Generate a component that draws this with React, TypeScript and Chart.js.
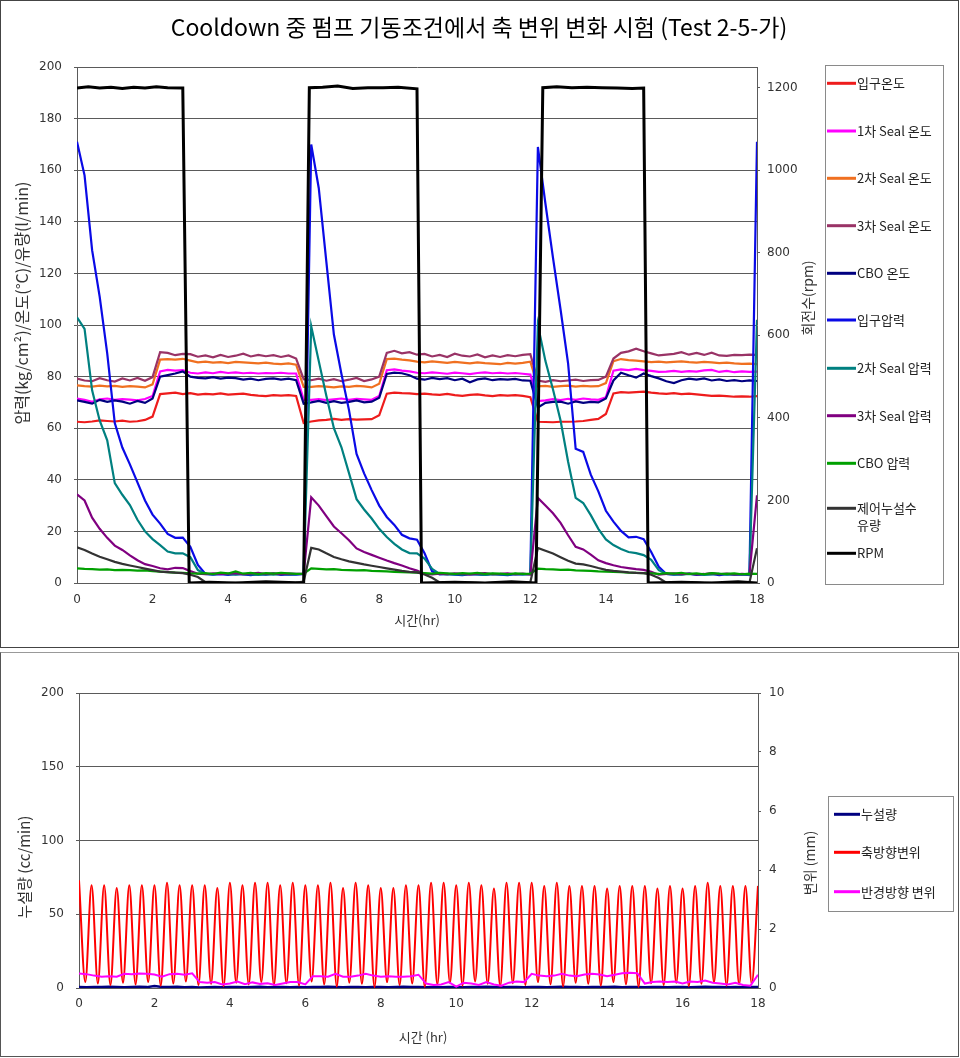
import React, { useEffect, useRef } from 'react';
import { Chart, registerables } from 'chart.js';

Chart.register(...registerables);

const KR = "'Noto Sans CJK KR', sans-serif";
const NUM = "'DejaVu Sans', sans-serif";
const GRID = '#5a5a5a';

// ---------- Top chart data (time in hr) ----------
const hours = [
  0, 0.2, 0.4, 0.6, 0.8, 1, 1.2, 1.4, 1.6, 1.8,
  2, 2.2, 2.4, 2.6, 2.8, 3, 3.2, 3.4, 3.6, 3.8,
  4, 4.2, 4.4, 4.6, 4.8, 5, 5.2, 5.4, 5.6, 5.8,
  6, 6.2, 6.4, 6.6, 6.8, 7, 7.2, 7.4, 7.6, 7.8,
  8, 8.2, 8.4, 8.6, 8.8, 9, 9.2, 9.4, 9.6, 9.8,
  10, 10.2, 10.4, 10.6, 10.8, 11, 11.2, 11.4, 11.6, 11.8,
  12, 12.2, 12.4, 12.6, 12.8, 13, 13.2, 13.4, 13.6, 13.8,
  14, 14.2, 14.4, 14.6, 14.8, 15, 15.2, 15.4, 15.6, 15.8,
  16, 16.2, 16.4, 16.6, 16.8, 17, 17.2, 17.4, 17.6, 17.8,
  18,
];

const inletTemp = [
  62.5, 62.3, 62.6, 63.0, 62.8, 62.6, 62.9, 62.5, 62.7, 63.2,
  64.5, 73.2, 73.5, 73.8, 73.2, 73.6, 73.0, 73.3, 73.1, 73.5,
  73.0, 73.2, 73.4, 72.9, 72.6, 72.4, 72.8, 72.6, 72.8, 72.5,
  62.0, 62.6, 63.0, 63.2, 63.6, 63.2, 63.5, 63.3, 63.4, 63.5,
  65.0, 73.4, 73.8, 73.6, 73.5, 73.2, 73.4, 73.1, 72.9, 73.3,
  72.8, 72.5, 72.9, 73.1, 72.7, 72.4, 72.8, 72.6, 72.8, 72.5,
  72.0, 62.5, 62.4, 62.3, 62.5, 62.5, 62.6, 62.8, 63.2, 63.6,
  65.5, 73.5, 74.0, 73.8, 74.0, 74.2, 73.8, 73.5, 73.3, 73.6,
  73.2, 73.4, 73.1, 72.8, 72.5, 72.6, 72.4, 72.2, 72.3, 72.2,
  72.4,
];

const seal1Temp = [
  71.5, 71.0, 70.2, 71.2, 71.5, 71.0, 71.3, 71.1, 70.8, 71.3,
  72.5, 82.0, 82.6, 82.3, 82.5, 81.5, 81.2, 81.6, 81.3, 81.8,
  81.4, 81.6, 81.3, 81.5, 81.2, 81.4, 81.3, 81.5, 81.2, 81.2,
  71.0, 71.0, 71.3, 70.9, 71.2, 71.5, 71.0, 71.4, 71.2, 71.0,
  72.5, 82.5, 82.8, 82.3, 82.0, 81.5, 81.3, 81.6, 81.4, 81.1,
  81.5, 81.3, 81.0, 81.4, 81.6, 81.3, 81.5, 81.2, 81.4, 81.1,
  80.8, 70.5, 70.8, 71.3, 70.9, 71.4, 71.0, 71.5, 71.2, 71.0,
  72.0, 82.3, 82.8, 82.5, 83.0, 82.5, 82.2, 81.8, 81.9, 82.2,
  81.8, 82.1, 81.9, 82.4, 82.6, 81.8, 82.2, 81.7, 82.0, 81.8,
  81.9,
];

const seal2Temp = [
  76.6, 76.3, 76.1, 76.5, 76.2, 76.4, 76.0, 76.3, 76.1, 75.8,
  77.0, 86.6, 86.8, 86.6, 86.9, 86.2, 85.5, 85.8, 85.4, 85.6,
  85.2, 85.7, 85.5, 85.3, 85.1, 85.4, 85.0, 84.8, 85.1, 84.6,
  76.0, 76.0, 76.3, 76.1, 75.8, 76.2, 76.0, 76.4, 76.2, 75.8,
  77.2, 86.8, 87.0, 86.6, 86.3, 85.8, 85.5, 85.9, 85.6, 85.3,
  85.7, 85.4, 85.1, 85.5, 85.2, 85.0, 84.8, 85.3, 85.0, 85.3,
  85.8, 76.2, 76.4, 76.0, 76.3, 76.5, 76.1, 76.4, 76.2, 76.3,
  77.5, 86.0, 86.8, 86.4, 86.2, 85.9, 85.6, 85.8, 85.5, 85.7,
  85.9, 85.6, 85.4, 85.7, 85.5, 85.2, 85.4, 85.1, 84.9, 85.0,
  84.8,
];

const seal3Temp = [
  79.2, 78.5, 78.2, 79.4, 78.6, 78.1, 79.3, 78.5, 79.5, 78.4,
  79.8, 89.5, 89.2, 88.3, 88.8, 88.7, 87.7, 88.2, 87.5, 88.4,
  87.6, 88.1, 88.9, 87.8, 88.4, 87.9, 88.3, 87.6, 88.2, 87.0,
  79.0, 78.6, 79.2, 78.4, 79.0, 78.2, 78.8, 79.5, 78.3, 78.9,
  80.0, 89.2, 90.0, 89.0, 89.5, 88.5, 88.8, 87.8, 88.4, 87.6,
  88.9, 88.1, 87.8, 88.6, 87.5, 88.2, 87.6, 88.3, 87.9, 88.4,
  88.7, 78.5, 78.0, 78.6, 78.2, 78.5, 78.8, 78.3, 78.6, 78.7,
  80.0, 87.0, 89.2, 89.8, 90.8, 89.8, 89.0, 88.2, 88.5, 88.8,
  89.5, 88.5, 89.2, 88.4, 89.3, 88.2, 88.0, 88.4, 88.3, 88.5,
  88.4,
];

const cboTemp = [
  70.8, 70.2, 69.5, 71.0, 70.2, 70.8, 70.3, 69.5, 70.6, 69.8,
  71.5, 80.0, 80.6, 81.2, 82.0, 80.0, 79.5, 79.3, 79.8, 79.2,
  79.6, 79.4, 78.8, 79.2, 78.6, 79.1, 79.3, 78.8, 79.2, 78.6,
  69.5, 70.0, 70.6, 69.8, 70.5, 69.8, 70.2, 70.8, 70.0, 70.3,
  71.8, 81.0, 81.5, 81.3, 80.5, 79.2, 78.8, 79.5, 79.0, 79.4,
  78.6, 79.2, 77.8, 78.9, 79.3, 78.6, 79.0, 78.8, 79.1, 78.5,
  78.4, 68.0, 69.8, 70.2, 70.3, 69.5, 70.4, 69.8, 70.2, 70.0,
  71.5, 78.5, 81.5, 80.5, 79.6, 81.2, 80.2, 79.3, 78.2, 77.5,
  78.6, 79.2, 78.8, 79.3, 78.5, 78.9, 78.3, 78.6, 78.2, 78.5,
  78.3,
];

const inletPress = [
  171, 158, 129, 111, 89, 62, 52.5, 46, 39, 32,
  26.5, 23, 19, 17.5, 17.6, 14, 7, 3.5, 3.2, 3.4,
  3.1, 3.5, 3.3, 3.0, 3.4, 3.2, 3.6, 3.1, 3.3, 3.2,
  3.5, 170, 153, 124.6, 96.3, 81, 67, 50, 42.5, 36,
  30, 25.6, 22.5, 18.7, 17.3, 16.8, 11.5, 4.5, 3.3, 3.5,
  3.2, 3.0, 3.4, 3.3, 3.1, 3.5, 3.2, 3.0, 3.4, 3.3,
  3.5, 169, 147, 126, 106, 85, 52, 50.8, 42, 35.5,
  28, 23.8, 20.2, 17.7, 17.9, 17, 12, 6.3, 3.5, 3.2,
  3.4, 3.6, 3.1, 3.3, 3.5, 3.0, 3.4, 3.2, 3.3, 3.1,
  171,
];

const seal2Press = [
  103, 98.5, 74.7, 63, 55.3, 38.7, 34.2, 30.2, 24.5, 20,
  17, 14.7, 12.2, 11.5, 11.5, 10, 5, 3.5, 3.3, 3.6,
  3.4, 3.2, 3.5, 3.3, 3.1, 3.4, 3.2, 3.5, 3.3, 3.4,
  3.5, 99.5, 86, 72.6, 60, 52.6, 42.6, 32.5, 28.5, 25,
  21, 17.8, 15.2, 13, 11.6, 11.5, 9.5, 5.5, 3.5, 3.3,
  3.4, 3.2, 3.5, 3.3, 3.1, 3.4, 3.3, 3.2, 3.5, 3.3,
  3.4, 100, 86, 75, 63, 47, 33, 31, 26.3, 21,
  16.9, 14.7, 13.2, 12, 11.6, 10.8, 9, 5, 3.5, 3.3,
  3.2, 3.5, 3.4, 3.1, 3.3, 3.5, 3.2, 3.4, 3.3, 3.2,
  102,
];

const seal3Press = [
  34.4, 32, 25.3, 21, 17.5, 14.5, 12.8, 10.7, 8.8, 7.3,
  6.6, 5.7, 5.3, 5.9, 5.8, 4.6, 3.6, 3.4, 3.7, 3.5,
  3.6, 3.8, 3.4, 3.6, 3.9, 3.5, 3.7, 3.4, 3.6, 3.5,
  3.5, 33.2, 30, 25.9, 21.9, 19.3, 16.6, 13.4, 12, 10.9,
  9.8, 8.7, 7.7, 6.8, 5.7, 4.8, 3.5, 3.3, 3.6, 3.4,
  3.7, 3.5, 3.3, 3.6, 3.8, 3.4, 3.5, 3.7, 3.4, 3.6,
  3.3, 33, 30, 27, 23.3, 18.5, 14, 13, 11, 8.8,
  7.7, 6.9, 6.2, 5.8, 5.4, 5.1, 4.3, 3.2, 3.5, 3.7,
  3.4, 3.6, 3.3, 3.5, 3.8, 3.4, 3.6, 3.3, 3.5, 3.4,
  34,
];

const cboPress = [
  5.7, 5.5, 5.4, 5.2, 5.3, 5.0, 5.1, 5.0, 4.8, 4.9,
  4.6, 4.4, 4.2, 4.0, 3.9, 3.7, 3.6, 3.8, 3.5, 4.0,
  3.7, 4.5, 3.6, 3.9, 3.5, 3.8, 3.6, 3.9, 3.7, 3.5,
  3.6, 5.7, 5.5, 5.3, 5.4, 5.1, 5.0, 4.9, 5.0, 4.7,
  4.6, 4.5, 4.3, 4.2, 4.1, 4.0, 3.8, 3.6, 3.9, 3.7,
  3.5, 3.8, 3.6, 3.9, 3.5, 3.7, 3.6, 3.4, 3.7, 3.5,
  3.6, 5.6, 5.4, 5.3, 5.1, 5.2, 4.9, 4.8, 4.7, 4.5,
  4.4, 4.3, 4.2, 4.0, 3.9, 3.8, 3.7, 3.5, 3.8, 3.6,
  3.9, 3.5, 3.7, 3.4, 3.8, 3.6, 3.5, 3.7, 3.4, 3.6,
  3.5,
];

const leakFlow = [
  13.8, 12.8, 11.4, 10.2, 9.2, 8.2, 7.4, 6.8, 6.2, 5.6,
  5.0, 4.4, 4.2, 4.0, 3.8, 3.2, 2.3, 0.3, 0, 0,
  0, 0.1, 0, 0.2, 0.1, 0, 0.1, 0.2, 0.1, 0.2,
  0.5, 13.6, 13, 11.5, 10.1, 9.2, 8.4, 7.8, 7.2, 6.7,
  6.2, 5.7, 5.2, 4.7, 4.3, 4.1, 3.3, 2, 0.2, 0,
  0.1, 0, 0.2, 0.1, 0, 0.1, 0.2, 0, 0.1, 0.2,
  0.3, 13.6, 12.5, 11.4, 10, 8.6, 7.5, 7.2, 6.6, 5.8,
  5.1, 4.7, 4.4, 4.1, 3.9, 3.8, 3.2, 1.9, 0.1, 0,
  0, 0.1, 0.2, 0, 0.1, 0, 0.2, 0.1, 0, 0.1,
  13.5,
];

const rpmHours = [
  0, 0.3, 0.6, 0.9, 1.2, 1.5, 1.8, 2.1, 2.4, 2.8,
  2.97, 3.5, 4.2, 5.0, 5.6, 6.0,
  6.15, 6.5, 6.9, 7.3, 7.7, 8.1, 8.5, 9.0,
  9.12, 10, 10.8, 11.5, 12.15,
  12.33, 12.7, 13.1, 13.5, 13.9, 14.3, 14.7, 15.0,
  15.12, 16, 16.8, 17.5, 18,
];
const rpmValues = [
  1199, 1202, 1199, 1201, 1198, 1201, 1199, 1202, 1200, 1199,
  0, 2, 0, 3, 1, 0,
  1200, 1201, 1204, 1198, 1200, 1200, 1201, 1197,
  0, 2, 0, 3, 0,
  1200, 1202, 1200, 1201, 1200, 1199, 1198, 1199,
  0, 2, 0, 3, 0,
];

const topLeftTicks = { min: 0, max: 200, step: 20 };
const topRightTicks = { min: 0, max: 1250, step: 200, lastLabel: 1200 };
const hourTicks = { min: 0, max: 18, step: 2 };

// ---------- Bottom chart data ----------
const leakRate = [
  0.6, 0.5, 0.7, 0.6, 0.8, 0.6, 0.5, 0.7, 0.9, 0.6,
  1.4, 0.7, 0.6, 0.8, 0.5, 0.6, 0.4, 0.5, 0.6, 0.5,
  0.7, 0.6, 0.5, 0.6, 0.8, 0.5, 0.6, 0.7, 0.5, 0.6,
  0.5, 0.7, 0.6, 0.8, 0.6, 0.5, 0.7, 0.6, 0.5, 0.6,
  0.7, 0.5, 0.6, 0.8, 0.6, 0.7, 0.5, 0.6, 0.5, 0.7,
  0.6, 0.5, 0.7, 0.6, 0.8, 0.6, 0.5, 0.6, 0.7, 0.5,
  0.6, 0.7, 0.5, 0.6, 0.8, 0.6, 0.7, 0.5, 0.6, 0.7,
  0.6, 0.8, 0.5, 0.6, 0.7, 0.5, 0.6, 0.7, 0.5, 0.6,
  0.7, 0.5, 0.6, 0.8, 0.6, 0.7, 0.5, 0.6, 0.5, 0.6,
  0.6,
];

const axialMinutes = [
  0, 10, 20, 30, 40, 50, 60, 70, 80, 90,
  100, 110, 120, 130, 140, 150, 160, 170, 180, 190,
  200, 210, 220, 230, 240, 250, 260, 270, 280, 290,
  300, 310, 320, 330, 340, 350, 360, 370, 380, 390,
  400, 410, 420, 430, 440, 450, 460, 470, 480, 490,
  500, 510, 520, 530, 540, 550, 560, 570, 580, 590,
  600, 610, 620, 630, 640, 650, 660, 670, 680, 690,
  700, 710, 720, 730, 740, 750, 760, 770, 780, 790,
  800, 810, 820, 830, 840, 850, 860, 870, 880, 890,
  900, 910, 920, 930, 940, 950, 960, 970, 980, 990,
  1000, 1010, 1020, 1030, 1040, 1050, 1060, 1070, 1080,
];
const axialDisp = [
  3.65, 0.20, 3.48, 0.15, 3.48, 0.10, 3.39, 0.18, 3.48, 0.12,
  3.48, 0.20, 3.48, 0.08, 3.57, 0.15, 3.48, 0.22, 3.48, 0.10,
  3.48, 0.14, 3.39, 0.06, 3.57, 0.18, 3.48, 0.12, 3.57, 0.20,
  3.57, 0.10, 3.48, 0.16, 3.57, 0.08, 3.48, 0.22, 3.48, 0.12,
  3.57, 0.05, 3.39, 0.18, 3.57, 0.14, 3.48, 0.03, 3.39, 0.20,
  3.39, 0.10, 3.48, 0.15, 3.48, 0.04, 3.57, 0.12, 3.57, 0.18,
  3.48, 0.08, 3.57, 0.22, 3.48, 0.14, 3.37, 0.06, 3.57, 0.16,
  3.57, 0.10, 3.57, 0.20, 3.46, 0.12, 3.57, 0.05, 3.46, 0.18,
  3.46, 0.14, 3.46, 0.08, 3.37, 0.20, 3.46, 0.12, 3.46, 0.04,
  3.46, 0.16, 3.37, 0.10, 3.46, 0.18, 3.37, 0.06, 3.46, 0.14,
  3.57, 0.20, 3.46, 0.08, 3.46, 0.12, 3.46, 0.15, 3.46,
];

const radialDisp = [
  0.49, 0.47, 0.42, 0.38, 0.40, 0.38, 0.48, 0.47, 0.49, 0.48,
  0.46, 0.38, 0.47, 0.48, 0.45, 0.50, 0.20, 0.18, 0.20, 0.12,
  0.15, 0.22, 0.13, 0.19, 0.14, 0.16, 0.10, 0.15, 0.20, 0.20,
  0.12, 0.40, 0.40, 0.38, 0.48, 0.38, 0.38, 0.42, 0.48, 0.42,
  0.38, 0.40, 0.38, 0.38, 0.40, 0.45, 0.15, 0.10, 0.12, 0.20,
  0.05, 0.18, 0.15, 0.10, 0.20, 0.12, 0.08, 0.18, 0.22, 0.20,
  0.48, 0.42, 0.40, 0.42, 0.48, 0.42, 0.40, 0.46, 0.48, 0.46,
  0.40, 0.45, 0.50, 0.52, 0.50, 0.15, 0.20, 0.22, 0.20, 0.22,
  0.15, 0.22, 0.20, 0.25, 0.18, 0.15, 0.12, 0.18, 0.10, 0.08,
  0.45,
];

const bottomLeftTicks = { min: 0, max: 200, step: 50 };
const bottomRightTicks = { min: 0, max: 10, step: 2 };

// ---------- helpers ----------
type Decor = {
  mainTitle?: { text: string; x: number; y: number; size: number };
  legend: { x: number; y: number; w: number; h: number; lineX0: number; lineX1: number; textX: number; itemY: number[]; lineGap: number; fontSize: number };
  titles: { text: string; x: number; y: number; rot: number; size: number }[];
};

function makeDecor(cfg: Decor) {
  return {
    id: 'decor',
    afterDraw(chart: any) {
      const ctx: CanvasRenderingContext2D = chart.ctx;
      const lg = cfg.legend;
      ctx.save();
      if (cfg.mainTitle) {
        const mt = cfg.mainTitle;
        ctx.font = `${mt.size}px ${KR}`;
        ctx.fillStyle = '#000';
        ctx.textAlign = 'center';
        ctx.textBaseline = 'middle';
        ctx.fillText(mt.text, mt.x, mt.y);
      }
      ctx.strokeStyle = '#8a8a8a';
      ctx.lineWidth = 1;
      ctx.strokeRect(lg.x + 0.5, lg.y + 0.5, lg.w, lg.h);
      ctx.font = `${lg.fontSize}px ${KR}`;
      ctx.textBaseline = 'middle';
      ctx.textAlign = 'left';
      chart.data.datasets.forEach((ds: any, i: number) => {
        const y = lg.itemY[i];
        ctx.strokeStyle = ds.borderColor;
        ctx.lineWidth = 3;
        ctx.beginPath();
        ctx.moveTo(lg.lineX0, y);
        ctx.lineTo(lg.lineX1, y);
        ctx.stroke();
        ctx.fillStyle = '#222';
        const lines: string[] = ds.legendLines || [ds.label];
        lines.forEach((t, j) => ctx.fillText(t, lg.textX, y + j * lg.lineGap));
      });
      cfg.titles.forEach((t) => {
        ctx.save();
        ctx.translate(t.x, t.y);
        ctx.rotate(t.rot);
        ctx.font = `${t.size}px ${KR}`;
        ctx.fillStyle = '#333';
        ctx.textAlign = 'center';
        ctx.textBaseline = 'middle';
        ctx.fillText(t.text, 0, 0);
        ctx.restore();
      });
      ctx.restore();
    },
  };
}

const tickFont = { family: NUM, size: 12 };
const plainNumber = (v: any) => String(v);

function topConfig(): any {
  const series = [
    { label: '입구온도', color: '#ee1c1c', values: inletTemp },
    { label: '1차 Seal 온도', color: '#ff00ff', values: seal1Temp },
    { label: '2차 Seal 온도', color: '#f07020', values: seal2Temp },
    { label: '3차 Seal 온도', color: '#993366', values: seal3Temp },
    { label: 'CBO 온도', color: '#000080', values: cboTemp },
    { label: '입구압력', color: '#0a0ae6', values: inletPress },
    { label: '2차 Seal 압력', color: '#008080', values: seal2Press },
    { label: '3차 Seal 압력', color: '#800080', values: seal3Press },
    { label: 'CBO 압력', color: '#00a000', values: cboPress },
    { label: '제어누설수 유량', color: '#333333', values: leakFlow, lines: ['제어누설수', '유량'] },
  ];
  const n = series.length + 1;
  const datasets: any[] = series.map((s, i) => ({
    label: s.label,
    legendLines: s.lines,
    data: hours.map((h, j) => ({ x: h, y: s.values[j] })),
    borderColor: s.color,
    backgroundColor: s.color,
    borderWidth: 2.2,
    pointRadius: 0,
    tension: 0,
    yAxisID: 'y',
    order: n - i,
  }));
  datasets.push({
    label: 'RPM',
    data: rpmHours.map((h, j) => ({ x: h, y: rpmValues[j] })),
    borderColor: '#000000',
    backgroundColor: '#000000',
    borderWidth: 3,
    pointRadius: 0,
    tension: 0,
    yAxisID: 'y1',
    order: 1,
  });
  const decor = makeDecor({
    mainTitle: { text: 'Cooldown 중 펌프 기동조건에서 축 변위 변화 시험 (Test 2-5-가)', x: 478, y: 26, size: 23 },
    legend: {
      x: 824, y: 64, w: 118, h: 519, lineX0: 826, lineX1: 855, textX: 856,
      itemY: [82.3, 130, 177.3, 224.7, 272.3, 319, 367.3, 414.7, 462.3, 507.3, 552.3],
      lineGap: 17, fontSize: 13,
    },
    titles: [
      { text: '압력(kg/cm²)/온도(°C)/유량(l/min)', x: 21, y: 302, rot: -Math.PI / 2, size: 16 },
      { text: '회전수(rpm)', x: 807, y: 297, rot: -Math.PI / 2, size: 14 },
      { text: '시간(hr)', x: 416, y: 619, rot: 0, size: 13 },
    ],
  });
  return {
    type: 'line',
    data: { datasets },
    plugins: [decor],
    options: {
      animation: false,
      responsive: false,
      maintainAspectRatio: false,
      events: [],
      layout: { padding: { top: 66, left: 0, bottom: 0, right: 141 } },
      plugins: {
        legend: { display: false },
        tooltip: { enabled: false },
        title: { display: false },
      },
      scales: {
        x: {
          type: 'linear',
          min: hourTicks.min,
          max: hourTicks.max,
          ticks: { stepSize: hourTicks.step, font: tickFont, color: '#333', padding: 10, maxRotation: 0, callback: plainNumber },
          grid: { display: false, drawTicks: false },
          border: { color: GRID, width: 1 },
          afterFit: (s: any) => { s.height = 64; },
        },
        y: {
          type: 'linear',
          position: 'left',
          min: topLeftTicks.min,
          max: topLeftTicks.max,
          ticks: { stepSize: topLeftTicks.step, font: tickFont, color: '#333', padding: 12, callback: plainNumber },
          grid: { color: GRID, tickLength: 3, lineWidth: 1 },
          border: { color: GRID, width: 1 },
          afterFit: (s: any) => { s.width = 76; },
        },
        y1: {
          type: 'linear',
          position: 'right',
          min: topRightTicks.min,
          max: topRightTicks.max,
          ticks: { stepSize: topRightTicks.step, font: tickFont, color: '#333', padding: 7, callback: plainNumber },
          grid: { drawOnChartArea: false, color: GRID, tickLength: 3 },
          border: { color: GRID, width: 1 },
          afterBuildTicks: (s: any) => { s.ticks = s.ticks.filter((t: any) => t.value <= topRightTicks.lastLabel); },
          afterFit: (s: any) => { s.width = 60; },
        },
      },
    },
  };
}

function bottomConfig(): any {
  const decor = makeDecor({
    legend: {
      x: 827, y: 143, w: 125, h: 115, lineX0: 833, lineX1: 859, textX: 860,
      itemY: [161.3, 199.3, 238.7],
      lineGap: 17, fontSize: 13,
    },
    titles: [
      { text: '누설량 (cc/min)', x: 23, y: 214, rot: -Math.PI / 2, size: 15 },
      { text: '변위 (mm)', x: 809, y: 210, rot: -Math.PI / 2, size: 14 },
      { text: '시간 (hr)', x: 422, y: 384, rot: 0, size: 13 },
    ],
  });
  const datasets = [
    {
      label: '누설량',
      data: hours.map((h, j) => ({ x: h, y: leakRate[j] })),
      borderColor: '#000080',
      backgroundColor: '#000080',
      borderWidth: 2.5,
      pointRadius: 0,
      yAxisID: 'y',
      order: 3,
    },
    {
      label: '축방향변위',
      data: axialMinutes.map((m, j) => ({ x: m / 60, y: axialDisp[j] })),
      borderColor: '#ff0000',
      backgroundColor: '#ff0000',
      borderWidth: 2,
      pointRadius: 0,
      cubicInterpolationMode: 'monotone',
      yAxisID: 'y1',
      order: 2,
    },
    {
      label: '반경방향 변위',
      data: hours.map((h, j) => ({ x: h, y: radialDisp[j] })),
      borderColor: '#ff00ff',
      backgroundColor: '#ff00ff',
      borderWidth: 2,
      pointRadius: 0,
      yAxisID: 'y1',
      order: 1,
    },
  ];
  return {
    type: 'line',
    data: { datasets },
    plugins: [decor],
    options: {
      animation: false,
      responsive: false,
      maintainAspectRatio: false,
      events: [],
      layout: { padding: { top: 40, left: 0, bottom: 0, right: 140 } },
      plugins: { legend: { display: false }, tooltip: { enabled: false }, title: { display: false } },
      scales: {
        x: {
          type: 'linear',
          min: hourTicks.min,
          max: hourTicks.max,
          ticks: { stepSize: hourTicks.step, font: tickFont, color: '#333', padding: 9, maxRotation: 0, callback: plainNumber },
          grid: { display: false, drawTicks: false },
          border: { color: GRID, width: 1 },
          afterFit: (s: any) => { s.height = 68; },
        },
        y: {
          type: 'linear',
          position: 'left',
          min: bottomLeftTicks.min,
          max: bottomLeftTicks.max,
          ticks: { stepSize: bottomLeftTicks.step, font: tickFont, color: '#333', padding: 12, callback: plainNumber },
          grid: { color: GRID, tickLength: 3 },
          border: { color: GRID, width: 1 },
          afterFit: (s: any) => { s.width = 78; },
        },
        y1: {
          type: 'linear',
          position: 'right',
          min: bottomRightTicks.min,
          max: bottomRightTicks.max,
          ticks: { stepSize: bottomRightTicks.step, font: tickFont, color: '#333', padding: 8, callback: plainNumber },
          grid: { drawOnChartArea: false, color: GRID, tickLength: 3 },
          border: { color: GRID, width: 1 },
          afterFit: (s: any) => { s.width = 60; },
        },
      },
    },
  };
}

export default function App() {
  const topRef = useRef<HTMLCanvasElement>(null);
  const botRef = useRef<HTMLCanvasElement>(null);
  useEffect(() => {
    const c1 = new Chart(topRef.current as HTMLCanvasElement, topConfig());
    const c2 = new Chart(botRef.current as HTMLCanvasElement, bottomConfig());
    return () => {
      c1.destroy();
      c2.destroy();
    };
  }, []);
  return (
    <div style={{ position: 'absolute', left: 0, top: 0, width: 960, height: 1058, background: '#fff' }}>
      <div style={{ position: 'absolute', left: 0, top: 0, width: 957, height: 646, border: '1px solid #444' }}>
        <canvas ref={topRef} width={957} height={646} style={{ display: 'block', width: 957, height: 646 }} />
      </div>
      <div
        style={{
          position: 'absolute', left: 0, top: 652, width: 957, height: 403,
          border: '1px solid #555', borderTopColor: '#999',
        }}
      >
        <canvas ref={botRef} width={957} height={403} style={{ display: 'block', width: 957, height: 403 }} />
      </div>
    </div>
  );
}
